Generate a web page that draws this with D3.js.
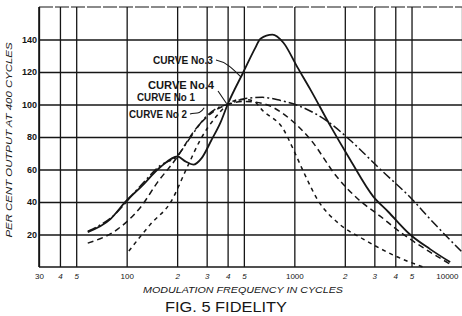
<!DOCTYPE html>
<html>
<head>
<meta charset="utf-8">
<script src="https://cdn.jsdelivr.net/npm/d3@7/dist/d3.min.js"></script>
<style>
  body { margin: 0; background: #fff; }
  svg { display: block; }
</style>
</head>
<body>
<svg id="chart" width="462" height="316"></svg>
<script>
// values: frequency in cycles, per cent output at 400 cycles
const curve3Freq = [58.6, 80, 100, 121, 159, 201, 224, 250, 280, 320, 363, 400, 497, 586, 628, 740, 861, 1042, 1250, 1637, 2154, 2950, 3630, 4900, 6450, 8500];
const curve3Pct  = [21.5, 29.5, 41, 49, 61.5, 68, 65, 63, 67, 78, 89, 100, 120, 135, 140.5, 143, 138, 123, 109, 87, 66, 43.5, 34, 20, 11, 3];

const curve4Freq = [58.6, 80, 121, 159, 201, 240, 295, 353, 400, 511, 645, 826, 1086, 1637, 2154, 3251, 5037, 6451, 10000];
const curve4Pct  = [22, 30, 50, 62.5, 68.5, 79.8, 92.1, 98.2, 100, 103.7, 104.4, 102.5, 98.8, 88.4, 78, 60.2, 41.7, 29.5, 9.2];

const curve1Freq = [58.6, 88.4, 121, 153, 196, 257, 325, 400, 511, 645, 947, 1245, 1803, 2404, 3251, 4275, 6451, 8487];
const curve1Pct  = [14.7, 23.3, 36.8, 52.2, 66.3, 84.7, 95.2, 100, 101.9, 100.7, 90.9, 78.6, 55.2, 41.7, 31.3, 21.5, 9.2, 1.8];

const curve2Freq = [103, 139, 183, 231, 276, 339, 400, 477, 562, 654, 861, 986, 1131, 1371, 1879, 2576, 3993, 5857];
const curve2Pct  = [9.8, 26.4, 39.9, 62, 78.6, 92.1, 100, 103.1, 102.5, 95.8, 84.7, 72.4, 58.9, 41.7, 26, 17.2, 6.8, 0];

const xTicks      = [30, 40, 50, 100, 200, 300, 400, 500, 1000, 2000, 3000, 4000, 5000, 10000];
const xTickLabels = ["30", "4", "5", "100", "2", "3", "4", "5", "1000", "2", "3", "4", "5", "10000"];
const yTicks      = [20, 40, 60, 80, 100, 120, 140];
const yTickLabels = ["20", "40", "60", "80", "100", "120", "140"];

const curveNames = ["CURVE No.3", "CURVE No.4", "CURVE No 1", "CURVE No 2"];

const width = 462, height = 316,
    margin = {top: 7, right: 0, bottom: 48, left: 39},
    plotBottom = height - margin.bottom - 1;

const ink = "#161616";

const svg = d3.select("#chart");

const x = d3.scaleLog()
    .domain([30, 10000])
    .range([margin.left, width]);

const y = d3.scaleLinear()
    .domain([0, 160])
    .range([plotBottom, margin.top]);

// vertical grid + x labels
const xAxis = svg.append("g")
    .attr("transform", "translate(0," + plotBottom + ")")
    .call(d3.axisBottom(x)
        .tickValues(xTicks)
        .tickSize(-(plotBottom - margin.top))
        .tickPadding(6)
        .tickFormat(function(d, i) { return xTickLabels[i]; }));

xAxis.select(".domain").remove();
xAxis.selectAll(".tick line")
    .attr("stroke", ink)
    .attr("stroke-width", 1.3);
xAxis.selectAll(".tick text")
    .attr("fill", ink)
    .attr("font-family", "Liberation Sans, sans-serif")
    .attr("font-size", 8)
    .attr("font-style", function(d, i) { return xTickLabels[i].length == 1 ? "italic" : "normal"; });
xAxis.selectAll(".tick text")
    .filter(function(d) { return d == 10000; })
    .attr("text-anchor", "end")
    .attr("dx", -4);

// horizontal grid + y labels
const yAxis = svg.append("g")
    .attr("transform", "translate(" + margin.left + ",0)")
    .call(d3.axisLeft(y)
        .tickValues(yTicks)
        .tickSize(-(width - margin.left))
        .tickPadding(2)
        .tickFormat(function(d, i) { return yTickLabels[i]; }));

yAxis.select(".domain").remove();
yAxis.selectAll(".tick line")
    .attr("stroke", ink)
    .attr("stroke-width", 1.3);
yAxis.selectAll(".tick text")
    .attr("fill", ink)
    .attr("font-family", "Liberation Sans, sans-serif")
    .attr("font-weight", "bold")
    .attr("font-size", 9);

// frame: left, top and bottom
svg.append("line")
    .attr("x1", margin.left).attr("x2", margin.left)
    .attr("y1", y(160)).attr("y2", y(0))
    .attr("stroke", ink).attr("stroke-width", 1.6);
svg.append("line")
    .attr("x1", margin.left).attr("x2", width)
    .attr("y1", y(0)).attr("y2", y(0))
    .attr("stroke", ink).attr("stroke-width", 1.4);
svg.append("line")
    .attr("x1", margin.left).attr("x2", width)
    .attr("y1", y(160)).attr("y2", y(160))
    .attr("stroke", ink).attr("stroke-width", 1.2)
    .attr("stroke-dasharray", "14,2");

// curves
const line = d3.line()
    .x(function(d) { return x(d[0]); })
    .y(function(d) { return y(d[1]); })
    .curve(d3.curveMonotoneX);

const curves = [
    {f: curve3Freq, v: curve3Pct, dash: null, w: 1.8},
    {f: curve4Freq, v: curve4Pct, dash: "9,3,2,3", w: 1.5},
    {f: curve1Freq, v: curve1Pct, dash: "6,4", w: 1.5},
    {f: curve2Freq, v: curve2Pct, dash: "4,4", w: 1.5}
];

svg.append("g")
    .selectAll("path")
    .data(curves)
    .enter().append("path")
      .attr("d", function(c) { return line(d3.zip(c.f, c.v)); })
      .attr("fill", "none")
      .attr("stroke", ink)
      .attr("stroke-width", function(c) { return c.w; })
      .attr("stroke-dasharray", function(c) { return c.dash; });

// curve labels
const labelPos = [
    {x: 153, y: 64, w: 60},
    {x: 148, y: 89, w: 66},
    {x: 137, y: 101, w: 58},
    {x: 129, y: 118, w: 58}
];

svg.append("g")
    .selectAll("text")
    .data(curveNames)
    .enter().append("text")
      .attr("x", function(d, i) { return labelPos[i].x; })
      .attr("y", function(d, i) { return labelPos[i].y; })
      .attr("textLength", function(d, i) { return labelPos[i].w; })
      .attr("lengthAdjust", "spacingAndGlyphs")
      .attr("font-family", "Liberation Sans, sans-serif")
      .attr("font-weight", "bold")
      .attr("font-size", 10.5)
      .attr("fill", ink)
      .text(function(d) { return d; });

// leader lines
const leaders = svg.append("g")
    .attr("fill", "none")
    .attr("stroke", ink)
    .attr("stroke-width", 1.1);

leaders.append("path")
    .attr("d", "M216,60 C226,62 232,68 " + x(480) + "," + y(117));
leaders.append("path")
    .attr("d", "M218,91 L" + x(395) + "," + y(100.5));
leaders.append("path")
    .attr("d", "M190,114 C195,112 199,116 " + x(290) + "," + y(98));

// axis titles
svg.append("text")
    .attr("transform", "translate(12,140) rotate(-90)")
    .attr("text-anchor", "middle")
    .attr("textLength", 195)
    .attr("lengthAdjust", "spacingAndGlyphs")
    .attr("font-family", "Liberation Sans, sans-serif")
    .attr("font-style", "italic")
    .attr("font-size", 9)
    .attr("fill", ink)
    .text("PER CENT OUTPUT AT 400 CYCLES");

svg.append("text")
    .attr("x", 243)
    .attr("y", 293)
    .attr("text-anchor", "middle")
    .attr("textLength", 200)
    .attr("lengthAdjust", "spacingAndGlyphs")
    .attr("font-family", "Liberation Sans, sans-serif")
    .attr("font-style", "italic")
    .attr("font-size", 9)
    .attr("fill", ink)
    .text("MODULATION FREQUENCY IN CYCLES");

svg.append("text")
    .attr("x", 226)
    .attr("y", 312)
    .attr("text-anchor", "middle")
    .attr("textLength", 122)
    .attr("lengthAdjust", "spacingAndGlyphs")
    .attr("font-family", "Liberation Sans, sans-serif")
    .attr("font-size", 15)
    .attr("fill", ink)
    .text("FIG. 5  FIDELITY");
</script>
</body>
</html>
